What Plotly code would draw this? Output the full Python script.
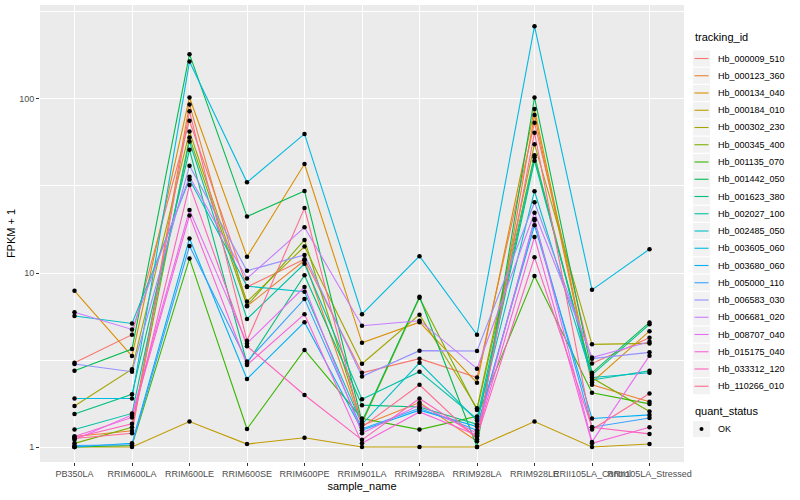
import plotly.graph_objects as go

samples = ["PB350LA", "RRIM600LA", "RRIM600LE", "RRIM600SE", "RRIM600PE", "RRIM901LA",
           "RRIM928BA", "RRIM928LA", "RRIM928LE", "RRII105LA_Control", "RRII105LA_Stressed"]

tracking_ids = ["Hb_000009_510", "Hb_000123_360", "Hb_000134_040", "Hb_000184_010", "Hb_000302_230",
                "Hb_000345_400", "Hb_001135_070", "Hb_001442_050", "Hb_001623_380", "Hb_002027_100",
                "Hb_002485_050", "Hb_003605_060", "Hb_003680_060", "Hb_005000_110", "Hb_006583_030",
                "Hb_006681_020", "Hb_008707_040", "Hb_015175_040", "Hb_033312_120", "Hb_110266_010"]

colors = ["#F8766D", "#EA8331", "#D89000", "#C09B00", "#A3A500", "#7CAE00", "#39B600", "#00BB4E",
          "#00BF7D", "#00C1A3", "#00BFC4", "#00BAE0", "#00B0F6", "#35A2FF", "#9590FF", "#C77CFF",
          "#E76BF3", "#FA62DB", "#FF62BC", "#FF6C91"]

quant_status = ["OK"]

# FPKM + 1 per sample (order of `samples`)
hb_000009_510 = [3.05, 4.42, 75, 8.3, 12.0, 2.67, 3.22, 2.51, 73, 3.02, 4.25]
hb_000123_360 = [1.15, 1.24, 93, 6.45, 11.8, 1.33, 1.8, 1.08, 81, 2.28, 1.82]
hb_000134_040 = [7.9, 3.33, 102, 12.4, 42.3, 3.97, 5.22, 2.34, 87.5, 2.36, 4.63]
hb_000184_010 = [1.0, 1.0, 1.4, 1.04, 1.13, 1.0, 1.0, 1.0, 1.4, 1.0, 1.04]
hb_000302_230 = [1.72, 2.8, 65, 6.85, 14.2, 3.01, 5.76, 1.67, 55, 3.89, 3.94]
hb_000345_400 = [1.05, 1.3, 60, 6.5, 15.5, 1.37, 7.2, 1.63, 47.5, 2.5, 1.6]
hb_001135_070 = [1.0, 1.02, 12.1, 1.27, 3.61, 1.46, 1.26, 1.5, 9.6, 2.05, 1.77]
hb_001442_050 = [2.74, 3.66, 181, 21.1, 29.6, 1.4, 7.3, 1.0, 102, 2.67, 5.2]
hb_001623_380 = [1.55, 2.01, 51, 3.02, 9.7, 1.74, 1.7, 1.35, 44.2, 2.6, 5.07]
hb_002027_100 = [1.26, 1.56, 57, 5.44, 11.3, 1.88, 2.71, 1.45, 46.3, 2.43, 2.74]
hb_002485_050 = [5.66, 5.13, 34.5, 8.4, 7.8, 1.35, 3.05, 1.42, 29.5, 2.51, 2.67]
hb_003605_060 = [1.9, 1.9, 164, 33.2, 63, 5.8, 12.5, 4.42, 262, 8.0, 13.7]
hb_003680_060 = [1.0, 1.05, 15.8, 2.46, 5.22, 1.25, 1.63, 1.31, 18.8, 1.46, 1.53]
hb_005000_110 = [1.02, 1.03, 14.3, 3.1, 7.1, 1.27, 1.67, 1.25, 20.1, 1.3, 1.47]
hb_006583_030 = [3.0, 2.71, 41.3, 10.3, 12.7, 2.54, 3.58, 3.56, 25.5, 3.22, 3.5]
hb_006681_020 = [5.95, 4.74, 35.7, 9.3, 18.3, 4.98, 5.32, 2.82, 22.2, 3.27, 4.03]
hb_008707_040 = [1.1, 1.53, 23, 3.94, 8.3, 1.2, 1.75, 1.2, 20.4, 1.07, 3.35]
hb_015175_040 = [1.15, 1.48, 21.4, 2.96, 5.8, 1.05, 1.59, 1.17, 16.1, 1.05, 1.3]
hb_033312_120 = [1.13, 1.36, 32, 3.8, 1.99, 1.1, 1.9, 1.15, 12.3, 1.3, 1.19]
hb_110266_010 = [1.12, 1.2, 85, 4.08, 23.6, 1.3, 2.28, 1.11, 64, 1.26, 2.03]

series = [hb_000009_510, hb_000123_360, hb_000134_040, hb_000184_010, hb_000302_230,
          hb_000345_400, hb_001135_070, hb_001442_050, hb_001623_380, hb_002027_100,
          hb_002485_050, hb_003605_060, hb_003680_060, hb_005000_110, hb_006583_030,
          hb_006681_020, hb_008707_040, hb_015175_040, hb_033312_120, hb_110266_010]

FONT = "Liberation Sans, Arial, sans-serif"
W, H = 800, 500
ML, MR, MT, MB = 40, 116, 5, 38
PW, PH = W - ML - MR, H - MT - MB


def px(xpix):
    return (xpix - ML) / PW


def py(ypix):
    return (H - MB - ypix) / PH


fig = go.Figure()
for name, col, vals in zip(tracking_ids, colors, series):
    fig.add_trace(go.Scatter(x=samples, y=vals, mode="lines", name=name,
                             line=dict(color=col, width=1.1), showlegend=False,
                             hoverinfo="name+x+y"))

all_x = [s for vals in series for s in samples]
all_y = [v for vals in series for v in vals]
fig.add_trace(go.Scatter(x=all_x, y=all_y, mode="markers", name=quant_status[0], showlegend=False,
                         marker=dict(color="black", size=4.5, symbol="circle")))

# ---- ggplot-style legend (layout decoration) ----
shapes = []
annotations = []
key_x0, key_x1 = 693, 710
row0, row_h = 58.5, 17.25
annotations.append(dict(text="tracking_id", xref="paper", yref="paper", x=px(693), y=py(37),
                        xanchor="left", yanchor="middle", showarrow=False,
                        font=dict(size=11, color="black", family=FONT)))
for i, (name, col) in enumerate(zip(tracking_ids, colors)):
    yc = row0 + i * row_h
    shapes.append(dict(type="rect", xref="paper", yref="paper", x0=px(key_x0), x1=px(key_x1),
                       y0=py(yc - row_h / 2 + 0.6), y1=py(yc + row_h / 2 - 0.6),
                       fillcolor="#F2F2F2", line=dict(width=0), layer="above"))
    shapes.append(dict(type="line", xref="paper", yref="paper", x0=px(key_x0 + 1.5), x1=px(key_x1 - 1.5),
                       y0=py(yc), y1=py(yc), line=dict(color=col, width=1.1), layer="above"))
    annotations.append(dict(text=name, xref="paper", yref="paper", x=px(716), y=py(yc),
                            xanchor="left", yanchor="middle", showarrow=False,
                            font=dict(size=9, color="black", family=FONT)))

annotations.append(dict(text="quant_status", xref="paper", yref="paper", x=px(693), y=py(411),
                        xanchor="left", yanchor="middle", showarrow=False,
                        font=dict(size=11, color="black", family=FONT)))
shapes.append(dict(type="rect", xref="paper", yref="paper", x0=px(key_x0), x1=px(key_x1),
                   y0=py(429 - 8), y1=py(429 + 8), fillcolor="#F2F2F2", line=dict(width=0), layer="above"))
shapes.append(dict(type="circle", xref="paper", yref="paper", x0=px(699.5), x1=px(703.5),
                   y0=py(427), y1=py(431), fillcolor="black", line=dict(width=0), layer="above"))
annotations.append(dict(text=quant_status[0], xref="paper", yref="paper", x=px(716), y=py(429),
                        xanchor="left", yanchor="middle", showarrow=False,
                        font=dict(size=9, color="black", family=FONT)))

fig.update_layout(
    width=W, height=H,
    margin=dict(l=ML, r=MR, t=MT, b=MB),
    paper_bgcolor="white", plot_bgcolor="#EBEBEB",
    font=dict(family=FONT, size=9, color="#4D4D4D"),
    showlegend=False,
    shapes=shapes, annotations=annotations,
    xaxis=dict(type="category", categoryorder="array", categoryarray=samples,
               range=[-0.6, len(samples) - 0.4], tickangle=0,
               showgrid=True, gridcolor="white", gridwidth=1.1, zeroline=False,
               ticks="outside", ticklen=3, tickcolor="#333333", tickwidth=1,
               tickfont=dict(size=9, color="#4D4D4D"),
               title=dict(text="sample_name", font=dict(size=11, color="black"), standoff=4)),
    yaxis=dict(type="log", range=[-0.086, 2.54],
               tickvals=[1, 10, 100], ticktext=["1", "10", "100"],
               showgrid=True, gridcolor="white", gridwidth=1.1, zeroline=False,
               ticks="outside", ticklen=3, tickcolor="#333333", tickwidth=1,
               tickfont=dict(size=9, color="#4D4D4D"),
               minor=dict(tickvals=[3.1623, 31.623, 316.23], showgrid=True,
                          gridcolor="white", gridwidth=0.5, ticks=""),
               title=dict(text="FPKM + 1", font=dict(size=11, color="black"), standoff=1)),
)

fig.write_html("out.html", config={"displayModeBar": False},
               post_script="document.body.style.margin='0';document.body.style.overflow='hidden';")
